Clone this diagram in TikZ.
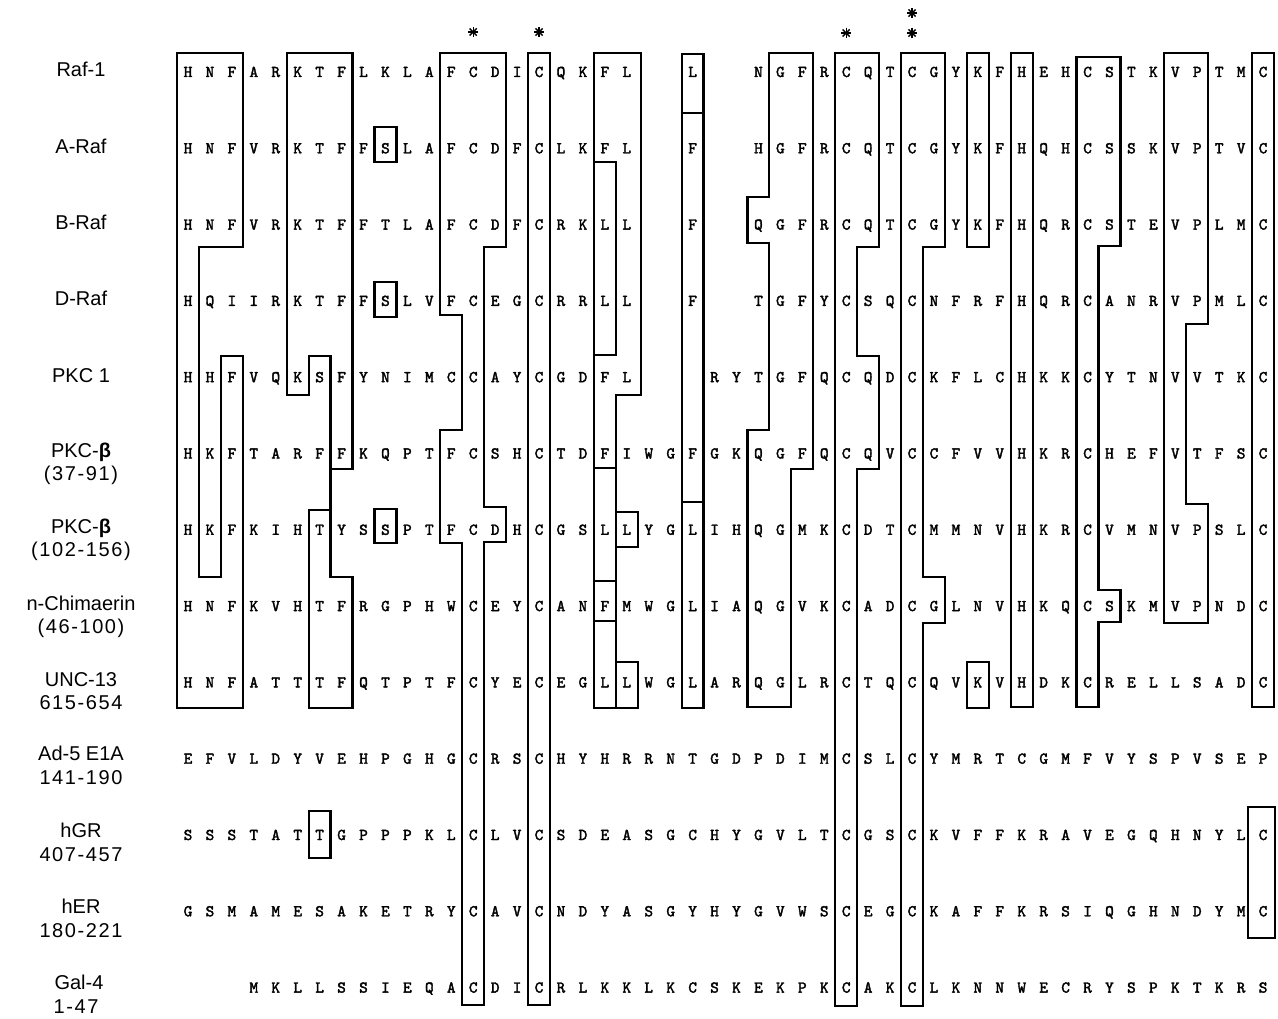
\documentclass[tikz,border=0pt]{standalone}
\usepackage{fontspec}
\setmainfont{Liberation Sans}
\newfontfamily\numfont[LetterSpace=8]{Liberation Sans}
\newfontfamily\seqfont{lmmono10-regular}[Extension=.otf, FakeBold=2.2]
\newcommand\blk{}
\begin{document}
\begin{tikzpicture}[x=1pt,y=-1pt,
  declare function={E(\j)=177+21.94*(\j-1); X(\j)=188+21.94*(\j-1); Y(\r)=72+76.3*\r;},
  box/.style={draw, line width=2.2pt, line join=miter},
  res/.style={font=\seqfont\fontsize{16.5}{16.5}\selectfont, inner sep=0pt, anchor=base},
  lab/.style={font=\fontsize{20}{20}\selectfont, inner sep=0pt, anchor=base},
  num/.style={font=\numfont\fontsize{20}{20}\selectfont, inner sep=0pt, anchor=base},
  astline/.style={line width=1.4pt}]
\useasboundingbox (0,0) rectangle (1278,1019);

% ---------- sequences ----------
\foreach \row [count=\rr from 0] in {%
{H,N,F,A,R,K,T,F,L,K,L,A,F,C,D,I,C,Q,K,F,L,\blk,\blk,L,\blk,\blk,N,G,F,R,C,Q,T,C,G,Y,K,F,H,E,H,C,S,T,K,V,P,T,M,C},%
{H,N,F,V,R,K,T,F,F,S,L,A,F,C,D,F,C,L,K,F,L,\blk,\blk,F,\blk,\blk,H,G,F,R,C,Q,T,C,G,Y,K,F,H,Q,H,C,S,S,K,V,P,T,V,C},%
{H,N,F,V,R,K,T,F,F,T,L,A,F,C,D,F,C,R,K,L,L,\blk,\blk,F,\blk,\blk,Q,G,F,R,C,Q,T,C,G,Y,K,F,H,Q,R,C,S,T,E,V,P,L,M,C},%
{H,Q,I,I,R,K,T,F,F,S,L,V,F,C,E,G,C,R,R,L,L,\blk,\blk,F,\blk,\blk,T,G,F,Y,C,S,Q,C,N,F,R,F,H,Q,R,C,A,N,R,V,P,M,L,C},%
{H,H,F,V,Q,K,S,F,Y,N,I,M,C,C,A,Y,C,G,D,F,L,\blk,\blk,\blk,R,Y,T,G,F,Q,C,Q,D,C,K,F,L,C,H,K,K,C,Y,T,N,V,V,T,K,C},%
{H,K,F,T,A,R,F,F,K,Q,P,T,F,C,S,H,C,T,D,F,I,W,G,F,G,K,Q,G,F,Q,C,Q,V,C,C,F,V,V,H,K,R,C,H,E,F,V,T,F,S,C},%
{H,K,F,K,I,H,T,Y,S,S,P,T,F,C,D,H,C,G,S,L,L,Y,G,L,I,H,Q,G,M,K,C,D,T,C,M,M,N,V,H,K,R,C,V,M,N,V,P,S,L,C},%
{H,N,F,K,V,H,T,F,R,G,P,H,W,C,E,Y,C,A,N,F,M,W,G,L,I,A,Q,G,V,K,C,A,D,C,G,L,N,V,H,K,Q,C,S,K,M,V,P,N,D,C},%
{H,N,F,A,T,T,T,F,Q,T,P,T,F,C,Y,E,C,E,G,L,L,W,G,L,A,R,Q,G,L,R,C,T,Q,C,Q,V,K,V,H,D,K,C,R,E,L,L,S,A,D,C},%
{E,F,V,L,D,Y,V,E,H,P,G,H,G,C,R,S,C,H,Y,H,R,R,N,T,G,D,P,D,I,M,C,S,L,C,Y,M,R,T,C,G,M,F,V,Y,S,P,V,S,E,P},%
{S,S,S,T,A,T,T,G,P,P,P,K,L,C,L,V,C,S,D,E,A,S,G,C,H,Y,G,V,L,T,C,G,S,C,K,V,F,F,K,R,A,V,E,G,Q,H,N,Y,L,C},%
{G,S,M,A,M,E,S,A,K,E,T,R,Y,C,A,V,C,N,D,Y,A,S,G,Y,H,Y,G,V,W,S,C,E,G,C,K,A,F,F,K,R,S,I,Q,G,H,N,D,Y,M,C}}{%
  \foreach \ch [count=\cc] in \row {
    \node[res] (s\rr-\cc) at ({X(\cc)},{Y(\rr)+5}) {\ch};
  }
}
% Gal-4 starts at column 4
\foreach \ch [count=\cc from 4] in {M,K,L,L,S,S,I,E,Q,A,C,D,I,C,R,L,K,K,L,K,C,S,K,E,K,P,K,C,A,K,C,L,K,N,N,W,E,C,R,Y,S,P,K,T,K,R,S}{
  \node[res] (s12-\cc) at ({X(\cc)},{Y(12)+5}) {\ch};
}

% ---------- labels ----------
\node[lab] (l0) at (81,{Y(0)+5}) {Raf-1};
\node[lab] (l1) at (81,{Y(1)+5}) {A-Raf};
\node[lab] (l2) at (81,{Y(2)+5}) {B-Raf};
\node[lab] (l3) at (81,{Y(3)+5}) {D-Raf};
\node[lab] (l4) at (81,{Y(4)+5}) {PKC 1};
\node[lab] (l5) at (81,{Y(5)+4}) {PKC-\textbf{β}};
\node[num] (l5b) at (81,{Y(5)+27}) {(37-91)};
\node[lab] (l6) at (81,{Y(6)+4}) {PKC-\textbf{β}};
\node[num] (l6b) at (81,{Y(6)+27}) {(102-156)};
\node[lab] (l7) at (81,{Y(7)+4}) {n-Chimaerin};
\node[num] (l7b) at (81,{Y(7)+27}) {(46-100)};
\node[lab] (l8) at (81,{Y(8)+4}) {UNC-13};
\node[num] (l8b) at (81,{Y(8)+27}) {615-654};
\node[lab] (l9) at (81,{Y(9)+2}) {Ad-5 E1A};
\node[num] (l9b) at (81,{Y(9)+26}) {141-190};
\node[lab] (l10) at (81,{Y(10)+2}) {hGR};
\node[num] (l10b) at (81,{Y(10)+26}) {407-457};
\node[lab] (l11) at (81,{Y(11)+2}) {hER};
\node[num] (l11b) at (81,{Y(11)+26}) {180-221};
\node[lab] (l12) at (79,{Y(12)+2}) {Gal-4};
\node[num] (l12b) at (76,{Y(12)+26}) {1-47};

% ---------- asterisks ----------
\foreach \px/\py [count=\k] in {14/32,17/32,31/33,34/13,34/33}{
  \coordinate (ast\k) at ({X(\px)},\py);
  \foreach \a in {0,45,90,135}
    \draw[astline] (ast\k) ++(\a:5) -- ++(\a+180:10);
}

% ---------- boxes ----------
% HNF
\draw[box] ({E(1)},53) -- ({E(4)},53) -- ({E(4)},247) -- ({E(2)},247) -- ({E(2)},577) -- ({E(3)},577)
  -- ({E(3)},356) -- ({E(4)},356) -- ({E(4)},708) -- ({E(1)},708) -- cycle;
% KTF
\draw[box] ({E(6)},53) -- ({E(9)},53) -- ({E(9)},469) -- ({E(8)},469) -- ({E(8)},356) -- ({E(7)},356)
  -- ({E(7)},395) -- ({E(6)},395) -- cycle;
\draw[box] ({E(8)},469) -- ({E(8)},510);
\draw[box] ({E(7)},510) -- ({E(8)},510) -- ({E(8)},577) -- ({E(9)},577) -- ({E(9)},708) -- ({E(7)},708) -- cycle;
% single boxes
\draw[box] ({E(10)},127) rectangle ({E(11)},162);
\draw[box] ({E(10)},282) rectangle ({E(11)},317);
\draw[box] ({E(10)},509) rectangle ({E(11)},543);
\draw[box] ({E(7)},811) rectangle ({E(8)},858);
% FCD / C14
\draw[box] ({E(13)},53) -- ({E(16)},53) -- ({E(16)},247) -- ({E(15)},247) -- ({E(15)},507) -- ({E(16)},507)
  -- ({E(16)},542) -- ({E(15)},542) -- ({E(15)},1005) -- ({E(14)},1005) -- ({E(14)},543) -- ({E(13)},543)
  -- ({E(13)},430) -- ({E(14)},430) -- ({E(14)},315) -- ({E(13)},315) -- cycle;
% C17
\draw[box] ({E(17)},53) rectangle ({E(18)},1005);
% FL column
\draw[box] ({E(20)},53) -- ({E(22)+3},53) -- ({E(22)+3},395) -- ({E(21)},395) -- ({E(21)},468) -- ({E(20)},468)
  -- ({E(20)},355) -- ({E(21)},355) -- ({E(21)},162) -- ({E(20)},162) -- cycle;
\draw[box] ({E(20)},162) rectangle ({E(21)},355);
\draw[box] ({E(20)},468) rectangle ({E(21)},581);
\draw[box] ({E(20)},581) rectangle ({E(21)},621);
\draw[box] ({E(20)},621) rectangle ({E(21)},708);
\draw[box] ({E(21)},512) rectangle ({E(22)},547);
\draw[box] ({E(21)},662) rectangle ({E(22)},708);
% column 24
\draw[box] ({E(24)},54) rectangle ({E(25)},113);
\draw[box] ({E(24)},113) rectangle ({E(25)},502);
\draw[box] ({E(24)},502) rectangle ({E(25)},708);
% GF
\draw[box] ({E(28)},53) -- ({E(30)},53) -- ({E(30)},469) -- ({E(29)},469) -- ({E(29)},707) -- ({E(27)},707)
  -- ({E(27)},430) -- ({E(28)},430) -- ({E(28)},243) -- ({E(27)},243) -- ({E(27)},197) -- ({E(28)},197) -- cycle;
% C31
\draw[box] ({E(31)},53) -- ({E(33)},53) -- ({E(33)},247) -- ({E(32)},247) -- ({E(32)},356) -- ({E(33)},356)
  -- ({E(33)},469) -- ({E(32)},469) -- ({E(32)},1006) -- ({E(31)},1006) -- cycle;
% C34
\draw[box] ({E(34)},53) -- ({E(36)},53) -- ({E(36)},247) -- ({E(35)},247) -- ({E(35)},577) -- ({E(36)},577)
  -- ({E(36)},623) -- ({E(35)},623) -- ({E(35)},1006) -- ({E(34)},1006) -- cycle;
% K37, H39
\draw[box] ({E(37)},53) rectangle ({E(38)},247);
\draw[box] ({E(37)},662) rectangle ({E(38)},708);
\draw[box] ({E(39)},53) rectangle ({E(40)},707);
% C42
\draw[box] ({E(42)},57) -- ({E(44)},57) -- ({E(44)},246) -- ({E(43)},246) -- ({E(43)},590) -- ({E(44)},590)
  -- ({E(44)},622) -- ({E(43)},622) -- ({E(43)},707) -- ({E(42)},707) -- cycle;
% VP
\draw[box] ({E(46)},53) -- ({E(48)},53) -- ({E(48)},324) -- ({E(47)},324) -- ({E(47)},504) -- ({E(48)},504)
  -- ({E(48)},623) -- ({E(46)},623) -- cycle;
% C50
\draw[box] ({E(50)},53) rectangle ({E(51)},707);
\draw[box] ({E(50)-4},807) rectangle ({E(51)+1},938);
\end{tikzpicture}
\end{document}
